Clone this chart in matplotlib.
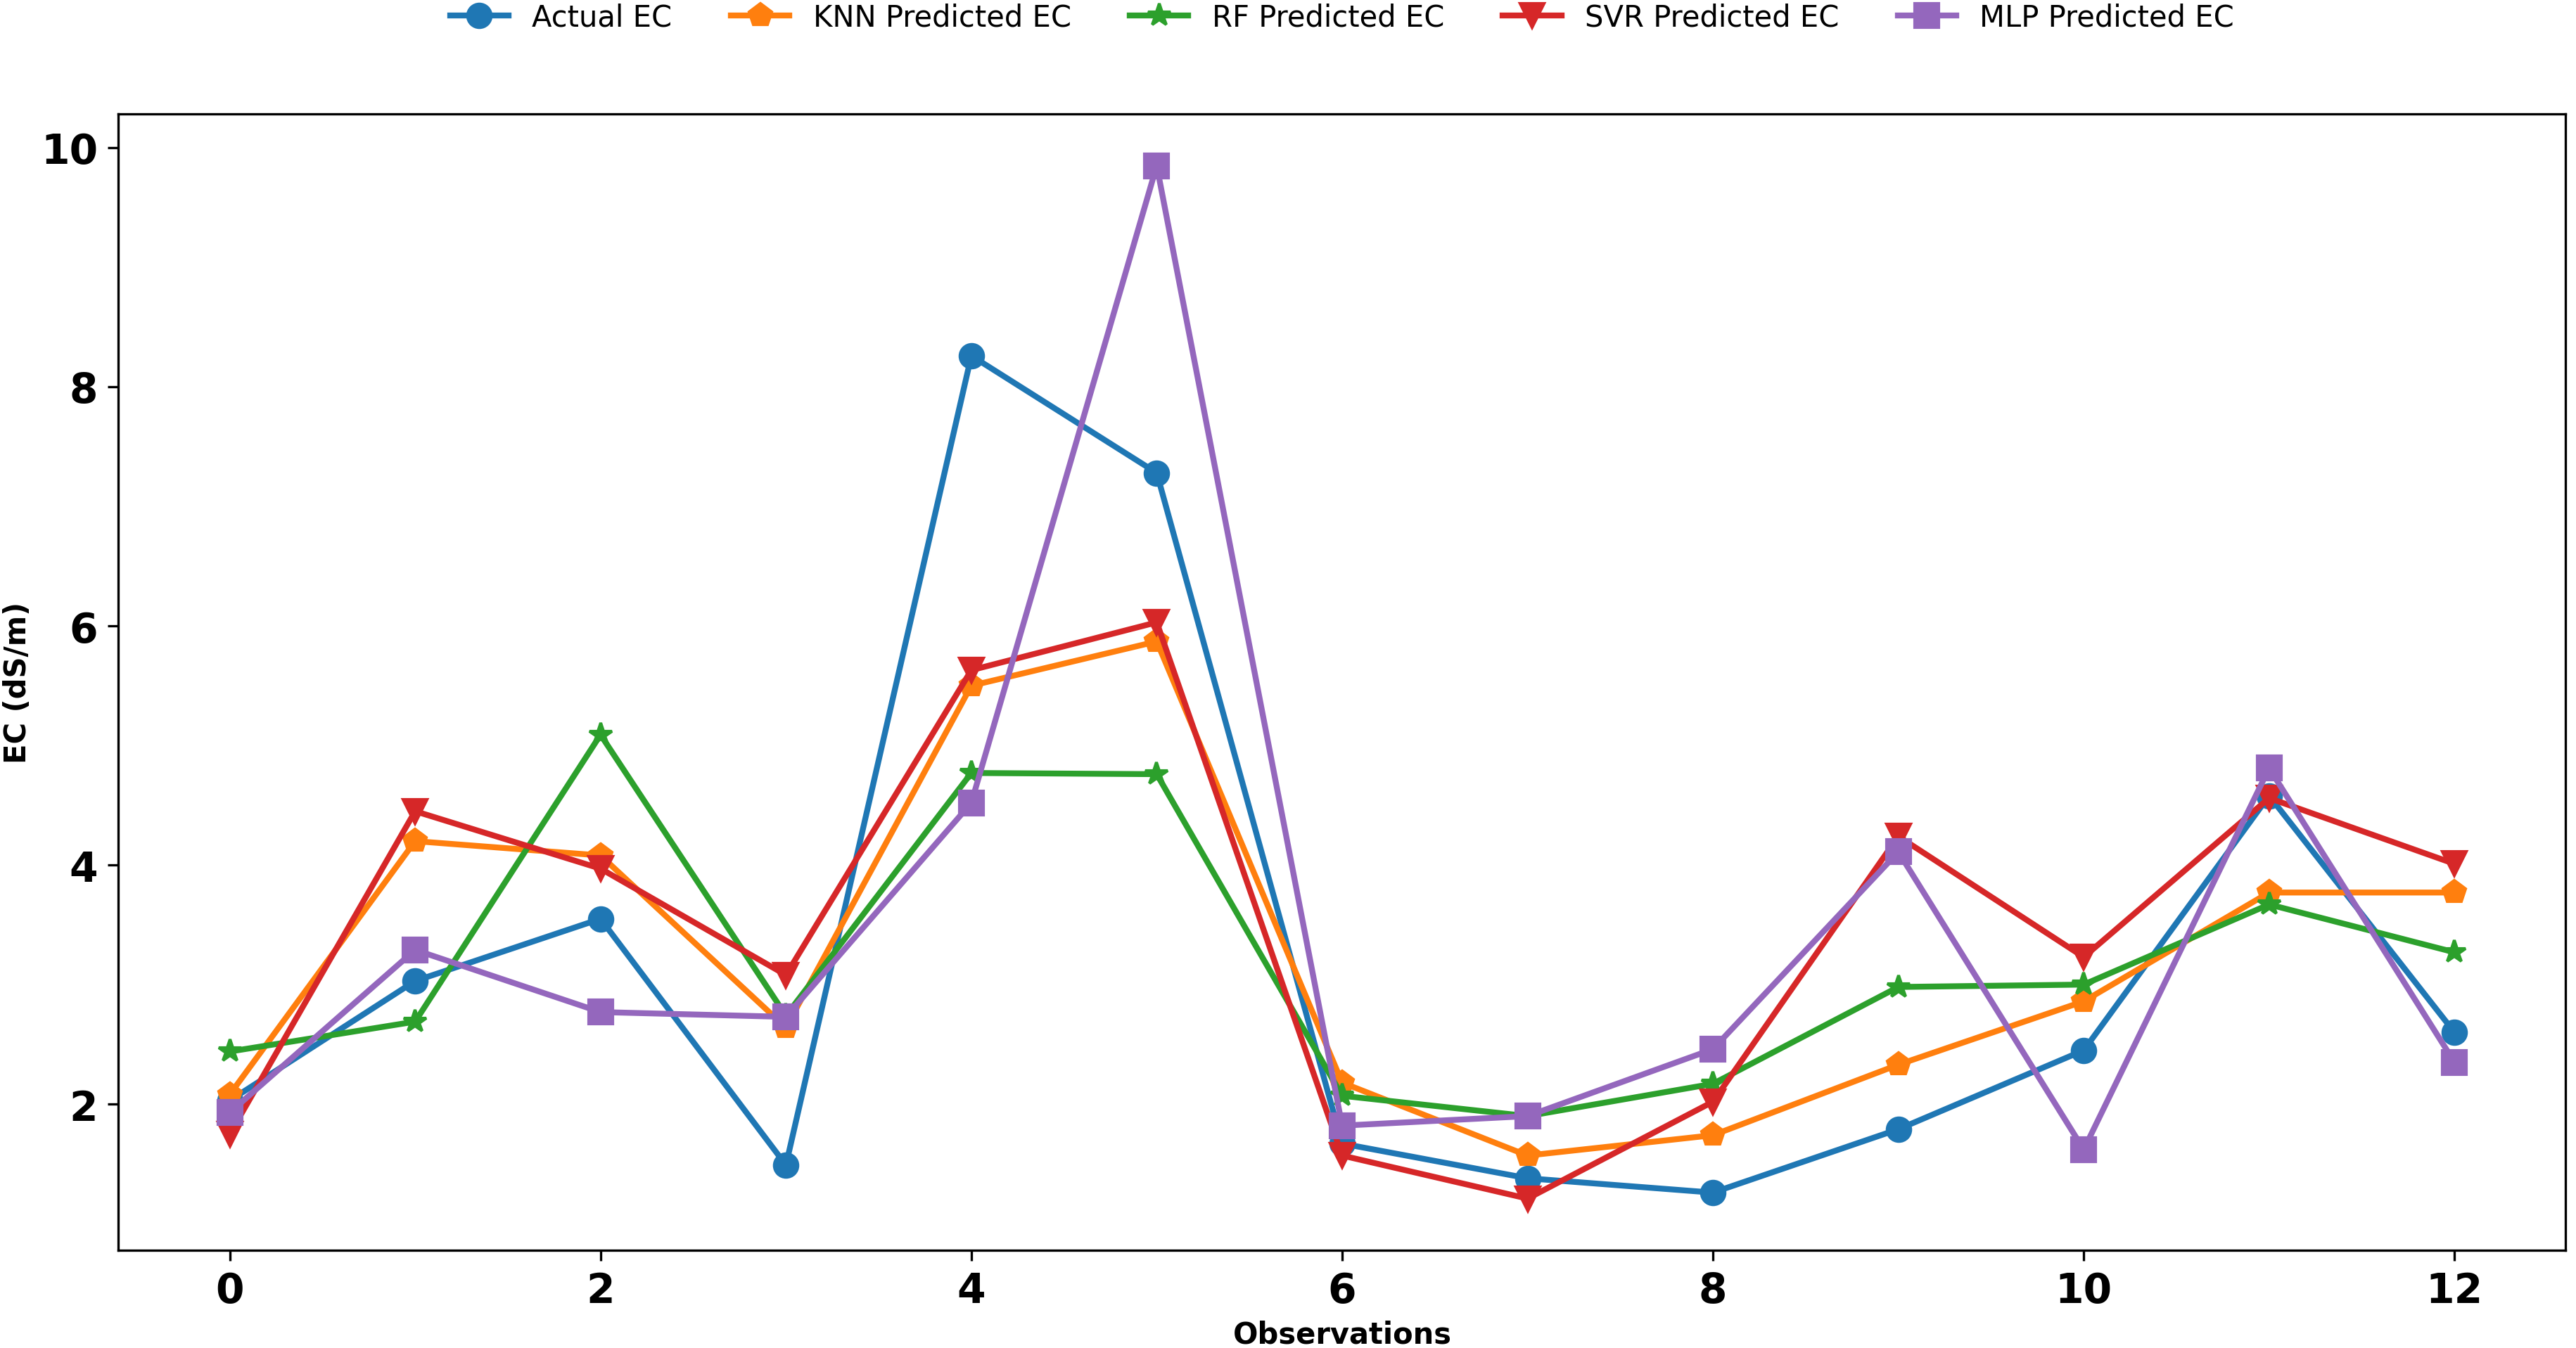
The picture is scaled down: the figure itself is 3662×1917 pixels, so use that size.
import numpy as np
import matplotlib
matplotlib.use('Agg')
import matplotlib.pyplot as plt

obs = np.arange(13)
actual = [2.03, 3.03, 3.55, 1.49, 8.26, 7.28, 1.67, 1.38, 1.26, 1.79, 2.45, 4.58, 2.60]
knn = [2.08, 4.20, 4.08, 2.64, 5.50, 5.87, 2.18, 1.57, 1.74, 2.33, 2.86, 3.77, 3.77]
rf = [2.44, 2.69, 5.09, 2.74, 4.77, 4.76, 2.07, 1.90, 2.17, 2.98, 3.00, 3.67, 3.27]
svr = [1.75, 4.45, 3.97, 3.08, 5.63, 6.03, 1.57, 1.21, 2.02, 4.24, 3.23, 4.56, 4.01]
mlp = [1.93, 3.29, 2.77, 2.73, 4.52, 9.85, 1.82, 1.90, 2.46, 4.11, 1.62, 4.81, 2.35]

fig = plt.figure(figsize=(12.207, 6.393), dpi=300)
ax = fig.add_axes([0.046, 0.0725, 0.95, 0.8425])
ax.plot(obs, actual, marker='o', lw=2, ms=8, label='Actual EC')
ax.plot(obs, knn, marker='p', lw=2, ms=8, label='KNN Predicted EC')
ax.plot(obs, rf, marker='*', lw=2, ms=8, label='RF Predicted EC')
ax.plot(obs, svr, marker='v', lw=2, ms=8, label='SVR Predicted EC')
ax.plot(obs, mlp, marker='s', lw=2, ms=8, label='MLP Predicted EC')

ax.set_xlabel('Observations', fontsize=10, fontweight='bold', labelpad=3)
ax.set_ylabel('EC (dS/m)', fontsize=10, fontweight='bold', labelpad=3)
ax.tick_params(labelsize=14)
for t in ax.get_xticklabels() + ax.get_yticklabels():
    t.set_fontweight('bold')
ax.legend(loc='center', bbox_to_anchor=(0.5, 1.085), ncol=5, frameon=False, fontsize=10)
fig.savefig('out.png', dpi=300)
